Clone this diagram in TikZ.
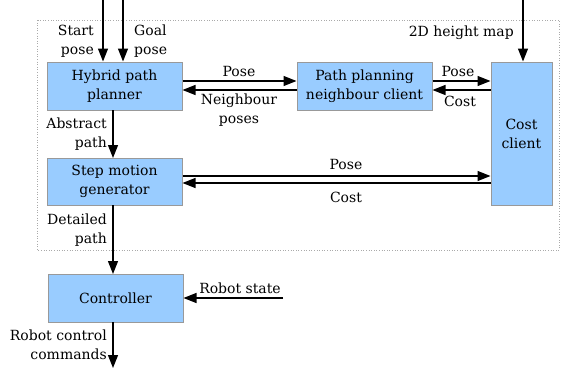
\documentclass[tikz,border=0pt]{standalone}
\usepackage{fontspec}
\setmainfont{DejaVu Serif}
\usetikzlibrary{arrows.meta}
\definecolor{boxfill}{HTML}{99CCFF}
\definecolor{boxline}{HTML}{999999}
\definecolor{frameline}{HTML}{AAAAAA}
\tikzset{
  block/.style={draw=boxline, line width=1pt, fill=boxfill, align=center,
    font=\fontsize{14}{19}\selectfont, inner sep=0pt},
  flow/.style={line width=1.3pt, -{Triangle[length=13pt,width=10pt]}},
  lbl/.style={font=\fontsize{14}{19}\selectfont, inner sep=0pt},
}
\begin{document}
\begin{tikzpicture}[x=1pt, y=-1pt]
  \useasboundingbox (0,0) rectangle (562,368);
  % boundary of the planning subsystem
  \draw[frameline, dotted, line width=0.6pt] (37,20) rectangle (559,250);

  % blocks
  \node[block, minimum width=135pt, minimum height=48pt] (hyb) at (114.5,86) {Hybrid path\\planner};
  \node[block, minimum width=135pt, minimum height=48pt] (ppn) at (364.5,86) {Path planning\\neighbour client};
  \node[block, minimum width=61pt, minimum height=143pt] (cost) at (521.5,133.5) {Cost\\client};
  \node[block, minimum width=135pt, minimum height=47pt] (step) at (114.5,181.5) {Step motion\\generator};
  \node[block, minimum width=135pt, minimum height=48pt] (ctrl) at (115.5,298) {Controller};

  % free ends of inputs and outputs
  \coordinate (startin) at (103,0);
  \coordinate (goalin) at (123,0);
  \coordinate (mapin) at (523,0);
  \coordinate (statein) at (283,298);
  \coordinate (cmdout) at (113,368);

  % inputs
  \draw[flow] (startin) -- (startin |- hyb.north);
  \draw[flow] (goalin) -- (goalin |- hyb.north);
  \draw[flow] (mapin) -- (mapin |- cost.north);
  \node[lbl, anchor=east, align=right] (startlbl) at (94,41) {Start\\pose};
  \node[lbl, anchor=west, align=left] (goallbl) at (134,41) {Goal\\pose};
  \node[lbl, anchor=east] (maplbl) at (514,33) {2D height map};

  % planner <-> neighbour client
  \draw[flow] (hyb.east |- 0,81) -- (ppn.west |- 0,81);
  \draw[flow] (ppn.west |- 0,90) -- (hyb.east |- 0,90);
  \node[lbl] (p1) at (239,71) {Pose};
  \node[lbl, align=center] (nb) at (239,110) {Neighbour\\poses};

  % neighbour client <-> cost client
  \draw[flow] (ppn.east |- 0,81) -- (cost.west |- 0,81);
  \draw[flow] (cost.west |- 0,90) -- (ppn.east |- 0,90);
  \node[lbl] (p2) at (458,71) {Pose};
  \node[lbl] (c2) at (460,101) {Cost};

  % planner -> step motion generator
  \draw[flow] (113,110) -- (113,158);
  \node[lbl, anchor=east, align=right] (abs) at (107,134) {Abstract\\path};

  % step motion generator <-> cost client
  \draw[flow] (step.east |- 0,176) -- (cost.west |- 0,176);
  \draw[flow] (cost.west |- 0,183) -- (step.east |- 0,183);
  \node[lbl] (p3) at (346,164) {Pose};
  \node[lbl] (c3) at (346,197) {Cost};

  % step motion generator -> controller
  \draw[flow] (113,205) -- (113,274);
  \node[lbl, anchor=east, align=right] (det) at (107,230) {Detailed\\path};

  % controller in and out
  \draw[flow] (statein) -- (ctrl.east);
  \node[lbl] (rs) at (240,288) {Robot state};
  \draw[flow] (113,322) -- (cmdout);
  \node[lbl, anchor=east, align=right] (cmd) at (107,345) {Robot control\\commands};
\end{tikzpicture}
\end{document}
